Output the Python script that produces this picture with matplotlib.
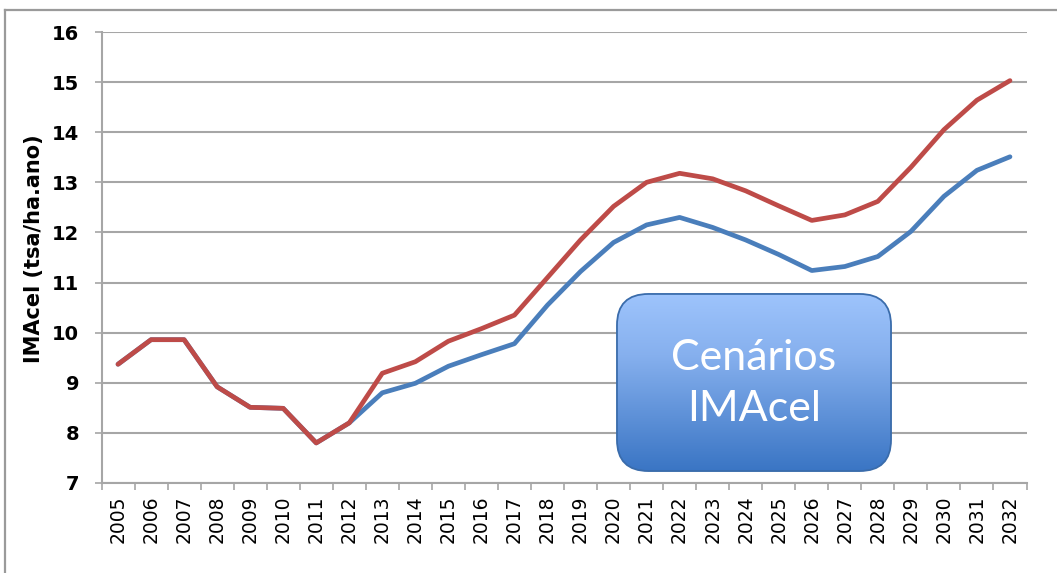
import matplotlib
matplotlib.use("Agg")
import matplotlib.pyplot as plt
import numpy as np
from matplotlib.patches import FancyBboxPatch
from matplotlib.lines import Line2D

years = [str(y) for y in range(2005, 2033)]
red_series = [9.37, 9.86, 9.86, 8.92, 8.51, 8.49, 7.80, 8.20, 9.19, 9.42,
              9.83, 10.08, 10.35, 11.10, 11.85, 12.52, 13.00, 13.18, 13.07, 12.83,
              12.53, 12.24, 12.35, 12.62, 13.30, 14.05, 14.64, 15.03]
blue_series = [9.37, 9.86, 9.86, 8.92, 8.51, 8.49, 7.80, 8.20, 8.80, 8.99,
               9.33, 9.56, 9.78, 10.55, 11.22, 11.80, 12.15, 12.30, 12.10, 11.85,
               11.56, 11.24, 11.32, 11.52, 12.02, 12.72, 13.24, 13.51]
y_ticks = [7, 8, 9, 10, 11, 12, 13, 14, 15, 16]
y_label = "IMAcel (tsa/ha.ano)"
box_text = "Cenários\nIMAcel"

W, H = 1057, 573
fig = plt.figure(figsize=(W / 100, H / 100), dpi=100)
fig.patch.set_facecolor("white")

ax = fig.add_axes([101.5 / W, 1 - 483 / H, 925 / W, 451 / H])
x = np.arange(len(years))
grid_c = "#a6a6a6"

ax.plot(x, blue_series, color="#4a7ebb", lw=3.4, solid_joinstyle="round", solid_capstyle="round", zorder=3)
ax.plot(x, red_series, color="#be4b48", lw=3.4, solid_joinstyle="round", solid_capstyle="round", zorder=4)

ax.set_xlim(-0.5, len(years) - 0.5)
ax.set_ylim(7, 16)
ax.set_yticks(y_ticks)
ax.set_yticklabels([str(v) for v in y_ticks], fontsize=14, fontweight="bold", family="DejaVu Sans")
ax.set_xticks(x)
ax.set_xticklabels(years, rotation=90, fontsize=13.5, family="DejaVu Sans")
ax.set_xticks(np.arange(-0.5, len(years), 1.0), minor=True)
ax.tick_params(axis="x", which="major", length=0, pad=9)
ax.tick_params(axis="x", which="minor", length=5, width=1.2, color=grid_c, direction="out")
ax.tick_params(axis="y", which="major", length=5, width=1.2, color=grid_c, pad=11)

ax.yaxis.grid(True, color=grid_c, lw=1.5)
ax.set_axisbelow(True)
for s in ["top", "right"]:
    ax.spines[s].set_visible(False)
for s in ["left", "bottom"]:
    ax.spines[s].set_color(grid_c)
    ax.spines[s].set_linewidth(1.5)

ax.set_ylabel(y_label, fontsize=15, fontweight="bold", family="DejaVu Sans")
ax.yaxis.set_label_coords(-0.062, 0.52)

# figure border (cropped rectangle)
fig.add_artist(Line2D([5 / W, 5 / W], [0, 1 - 10 / H], transform=fig.transFigure, color="#9a9a9a", lw=1.6))
fig.add_artist(Line2D([5 / W, 1], [1 - 10 / H, 1 - 10 / H], transform=fig.transFigure, color="#9a9a9a", lw=1.6))

# gradient rounded box
bx0, by0, bw, bh = 615, 292, 278, 181
bax = fig.add_axes([bx0 / W, 1 - (by0 + bh) / H, bw / W, bh / H])
bax.set_xlim(-2, bw + 2)
bax.set_ylim(-2, bh + 2)
bax.axis("off")
top = np.array([0x9e, 0xc4, 0xfc]) / 255
mid = np.array([0x86, 0xb0, 0xee]) / 255
bot = np.array([0x3a, 0x75, 0xc4]) / 255
n = 200
t = np.linspace(0, 1, n)[:, None]
grad = np.where(t < 0.35, top + (mid - top) * (t / 0.35), mid + (bot - mid) * ((t - 0.35) / 0.65))
img = bax.imshow(grad[:, None, :].repeat(2, axis=1), extent=[0, bw, 0, bh], origin="upper", aspect="auto", zorder=1)
patch = FancyBboxPatch((0, 0), bw, bh, boxstyle="round,pad=0,rounding_size=32",
                       facecolor="none", edgecolor="#3a6cab", lw=1.3, zorder=2)
bax.add_patch(patch)
img.set_clip_path(patch)
bax.text(bw / 2, bh / 2 - 1, box_text, ha="center", va="center", color="white",
         fontsize=31, family="Lato", linespacing=1.45, zorder=3)

fig.savefig("out.png", dpi=100, facecolor="white")
